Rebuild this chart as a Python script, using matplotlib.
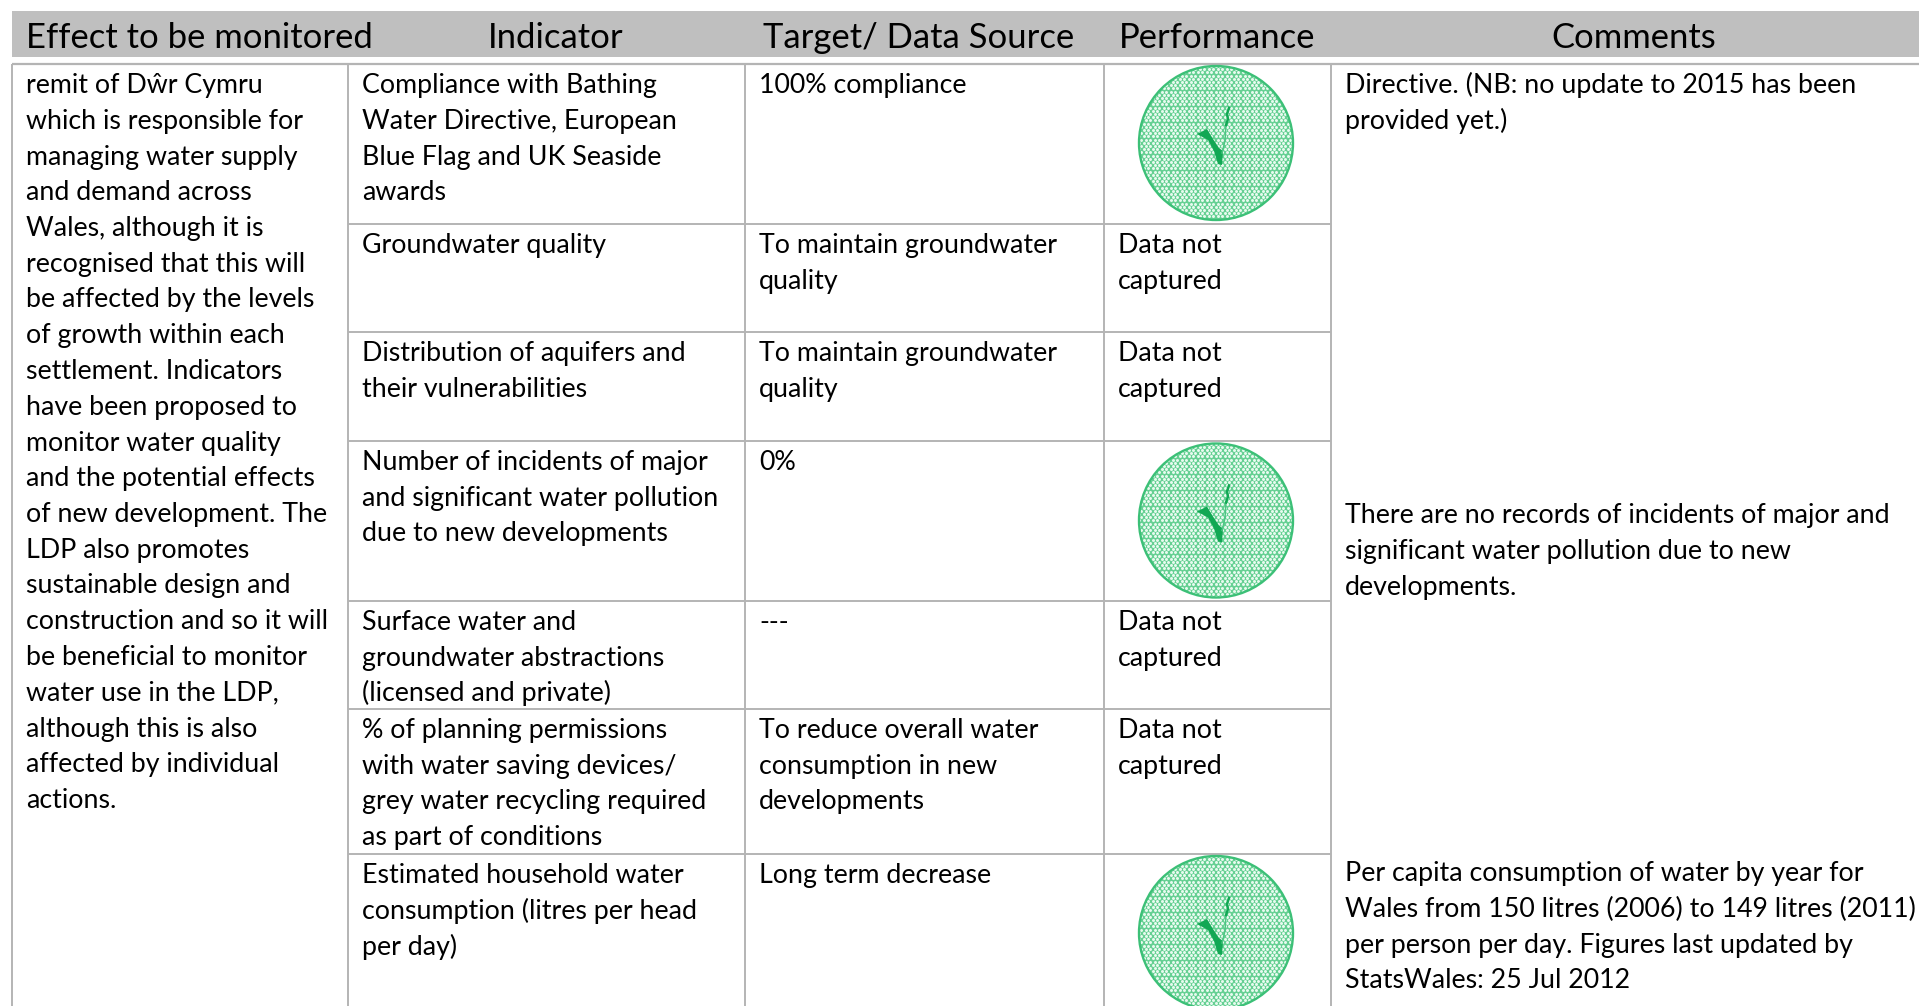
import numpy as np
import matplotlib
matplotlib.use("Agg")
import matplotlib.pyplot as plt
from matplotlib.patches import Circle, Rectangle

W, H = 1919, 1006
FONT = "Lato"
SIZE = 19.3
HSIZE = 24.9
LEAD = 35.75
GRAY = "#bfbfbf"
LINE = "#b4b4b4"
GREEN = "#3cc077"
DARK = "#12a854"

headers = ["Effect to be monitored", "Indicator", "Target/ Data Source", "Performance", "Comments"]
header_x = [26, 488, 763, 1119, 1551]

effect_lines = ["remit of Dŵr Cymru", "which is responsible for", "managing water supply",
    "and demand across", "Wales, although it is", "recognised that this will",
    "be affected by the levels", "of growth within each", "settlement. Indicators",
    "have been proposed to", "monitor water quality", "and the potential effects",
    "of new development. The", "LDP also promotes", "sustainable design and",
    "construction and so it will", "be beneficial to monitor", "water use in the LDP,",
    "although this is also", "affected by individual", "actions."]

indicators = [
    ["Compliance with Bathing", "Water Directive, European", "Blue Flag and UK Seaside", "awards"],
    ["Groundwater quality"],
    ["Distribution of aquifers and", "their vulnerabilities"],
    ["Number of incidents of major", "and significant water pollution", "due to new developments"],
    ["Surface water and", "groundwater abstractions", "(licensed and private)"],
    ["% of planning permissions", "with water saving devices/", "grey water recycling required", "as part of conditions"],
    ["Estimated household water", "consumption (litres per head", "per day)"],
]
targets = [
    ["100% compliance"],
    ["To maintain groundwater", "quality"],
    ["To maintain groundwater", "quality"],
    ["0%"],
    ["---"],
    ["To reduce overall water", "consumption in new", "developments"],
    ["Long term decrease"],
]
performance = [None, ["Data not", "captured"], ["Data not", "captured"], None,
               ["Data not", "captured"], ["Data not", "captured"], None]
comments = [
    (93, ["Directive. (NB: no update to 2015 has been", "provided yet.)"]),
    (523, ["There are no records of incidents of major and", "significant water pollution due to new", "developments."]),
    (881, ["Per capita consumption of water by year for", "Wales from 150 litres (2006) to 149 litres (2011)", "per person per day. Figures last updated by", "StatsWales: 25 Jul 2012"]),
]

row_tops = [64, 224, 332, 441, 601, 709, 854]
col_x = [12, 348, 745, 1104, 1331]
tick_centers = [143, 520.5, 933]

fig = plt.figure(figsize=(W / 100, H / 100), dpi=100)
ax = fig.add_axes([0, 0, 1, 1])
ax.set_xlim(0, W)
ax.set_ylim(H, 0)
ax.axis("off")

ax.add_patch(Rectangle((12, 11), W - 12, 46, fc=GRAY, ec="none"))
for s, x in zip(headers, header_x):
    ax.text(x, 35, s, family=FONT, fontsize=HSIZE, va="center_baseline", ha="left", color="black")

ax.plot([12, W], [64, 64], color=LINE, lw=1.6, solid_capstyle="butt")
for y in row_tops[1:]:
    ax.plot([348, 1331], [y, y], color=LINE, lw=1.4, solid_capstyle="butt")
for x in col_x:
    ax.plot([x, x], [64, H], color=LINE, lw=1.4, solid_capstyle="butt")


def block(x, y, lines):
    for i, s in enumerate(lines):
        ax.text(x, y + i * LEAD, s, family=FONT, fontsize=SIZE, va="baseline", ha="left", color="black")


block(26, 93, effect_lines)
for top, ind, tg, pf in zip(row_tops, indicators, targets, performance):
    base = top + 29
    block(362, base, ind)
    block(759, base, tg)
    if pf:
        block(1118, base, pf)
for y, c in comments:
    block(1345, y, c)


def tick_badge(cx, cy, r=77):
    ax.add_patch(Circle((cx, cy), r, fc="#66d093", ec="none", zorder=3))
    rows = np.arange(-r, r + 1, 3.2)
    xs, ys = [], []
    for j, dy in enumerate(rows):
        off = 2.25 if j % 2 else 0
        for dx in np.arange(-r, r + 1, 4.5):
            xs.append(cx + dx + off)
            ys.append(cy + dy)
    dots = ax.scatter(xs, ys, s=4.6, marker="o", color="#e8faef", lw=0, zorder=3.1)
    dots.set_snap(False)
    dots.set_clip_path(Circle((cx, cy), r, transform=ax.transData))
    ax.add_patch(Circle((cx, cy), r, fc="none", ec=GREEN, lw=1.7, zorder=3.2))
    tx = [-19, -9, -3, 3, 7, 6, 2, -2, -8]
    ty = [-9, -14, -4, 5, 8, 22, 21, 8, -3]
    ax.fill([cx + v for v in tx], [cy + v for v in ty], color=DARK, zorder=4, lw=0)
    ax.plot([cx + 6, cx + 9, cx + 10], [cy + 10, cy - 2, cy - 18], color="#4cc583", lw=1.0, zorder=4)
    ax.plot([cx + 10, cx + 12, cx + 11, cx + 13], [cy - 18, cy - 24, cy - 29, cy - 35], color=DARK, lw=1.8, zorder=4)


for cy in tick_centers:
    tick_badge(1216, cy)

fig.savefig("out.png", dpi=100)
